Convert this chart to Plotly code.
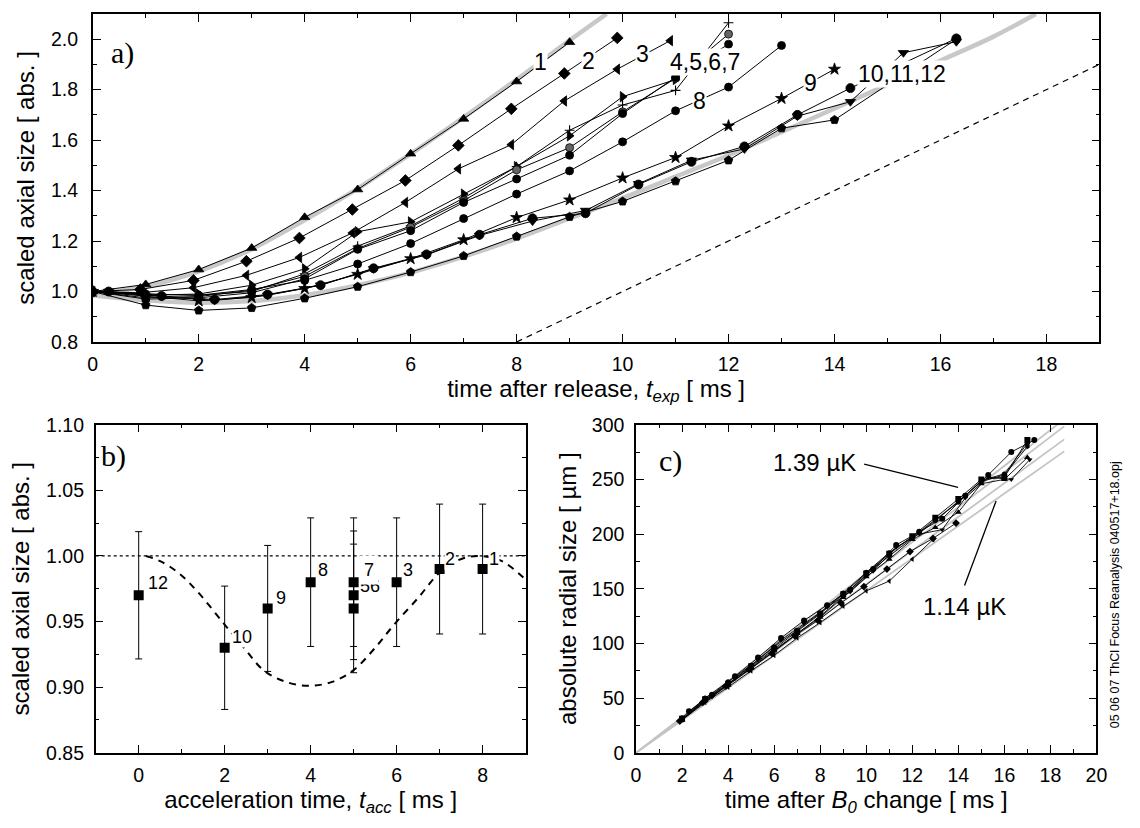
import plotly.graph_objects as go

# ---------------- data: panel a (scaled axial size vs time after release) -------------
A1_T = [0, 1, 2, 3, 4, 5, 6, 7, 8, 9]
A1_V = [1.0, 1.028, 1.087, 1.172, 1.294, 1.404, 1.546, 1.684, 1.832, 1.988]
A2_T = [0, 0.9, 1.9, 2.9, 3.9, 4.9, 5.9, 6.9, 7.9, 8.9, 9.9]
A2_V = [1.0, 1.008, 1.044, 1.12, 1.212, 1.325, 1.44, 1.579, 1.724, 1.864, 2.005]
A3_T = [0, 0.9, 1.9, 2.9, 3.9, 4.9, 5.9, 6.9, 7.9, 8.9, 9.9, 10.9]
A3_V = [1.0, 0.995, 1.015, 1.064, 1.135, 1.232, 1.353, 1.486, 1.582, 1.755, 1.881, 1.994]
A4_T = [0, 1, 2, 3, 4, 5, 6, 7, 8, 9, 10, 11, 12]
A4_V = [1.0, 0.99, 0.985, 1.0, 1.07, 1.18, 1.26, 1.37, 1.495, 1.639, 1.739, 1.797, 2.065]
A5_T = [0, 1, 2, 3, 4, 5, 6, 7, 8, 9, 10, 11]
A5_V = [1.0, 0.985, 0.99, 1.025, 1.09, 1.237, 1.276, 1.386, 1.495, 1.617, 1.772, 1.84]
A6_T = [0, 1, 2, 3, 4, 5, 6, 7, 8, 9, 10, 11, 12]
A6_V = [1.0, 0.975, 0.98, 1.005, 1.06, 1.17, 1.255, 1.36, 1.482, 1.57, 1.712, 1.845, 2.02]
A7_T = [0, 1, 2, 3, 4, 5, 6, 7, 8, 9, 10, 11, 12]
A7_V = [1.0, 0.97, 0.975, 0.995, 1.05, 1.167, 1.241, 1.353, 1.446, 1.54, 1.705, 1.849, 1.98]
A8_T = [0, 1, 2, 3, 4, 5, 6, 7, 8, 9, 10, 11, 12, 13]
A8_V = [1.0, 0.99, 0.985, 1.008, 1.044, 1.109, 1.19, 1.289, 1.386, 1.478, 1.593, 1.716, 1.81, 1.975]
A9_T = [0, 1, 2, 3, 4, 5, 6, 7, 8, 9, 10, 11, 12, 13, 14]
A9_V = [1.0, 0.98, 0.963, 0.976, 1.012, 1.068, 1.13, 1.205, 1.293, 1.363, 1.45, 1.531, 1.656, 1.765, 1.881]
A10_T = [0.3, 1.3, 2.3, 3.3, 4.3, 5.3, 6.3, 7.3, 8.3, 9.3, 10.3, 11.3, 12.3, 13.3, 14.3, 15.3, 16.3]
A10_V = [1.0, 0.98, 0.965, 0.985, 1.025, 1.09, 1.145, 1.222, 1.279, 1.321, 1.427, 1.52, 1.565, 1.695, 1.752, 1.946, 1.99]
A11_T = [0.3, 1.3, 2.3, 3.3, 4.3, 5.3, 6.3, 7.3, 8.3, 9.3, 10.3, 11.3, 12.3, 13.3, 14.3, 16.3]
A11_V = [1.0, 0.982, 0.968, 0.988, 1.025, 1.092, 1.147, 1.225, 1.29, 1.31, 1.424, 1.514, 1.575, 1.70, 1.806, 2.003]
A12_T = [0, 1, 2, 3, 4, 5, 6, 7, 8, 9, 10, 11, 12, 13, 14, 16.3]
A12_V = [1.0, 0.946, 0.925, 0.935, 0.973, 1.019, 1.077, 1.141, 1.218, 1.296, 1.357, 1.437, 1.52, 1.647, 1.68, 2.0]

# grey fit curves and dashed reference line (panel a)
GU_T = [0, 1, 2, 3, 4, 5, 6, 7, 8, 9, 9.7]
GU_V = [0.99, 1.02, 1.08, 1.168, 1.283, 1.408, 1.545, 1.69, 1.84, 1.995, 2.1]
GL_T = [0, 1, 2, 3, 4, 5, 6, 7, 8, 9, 10, 11, 12, 13, 14, 15, 16, 17, 17.8]
GL_V = [0.985, 0.965, 0.955, 0.962, 0.985, 1.025, 1.075, 1.138, 1.21, 1.29, 1.37, 1.455,
        1.54, 1.632, 1.725, 1.82, 1.915, 2.01, 2.1]
AD_T = [8, 19]
AD_V = [0.8, 1.9]

A_LABELS = ["1", "2", "3", "4,5,6,7", "8", "9", "10,11,12"]
A_LAB_T = [8.45, 9.35, 10.37, 11.55, 11.46, 13.55, 15.28]
A_LAB_V = [1.908, 1.912, 1.94, 1.908, 1.754, 1.827, 1.862]

# ---------------- data: panel b ----------------
B_T = [0, 2, 3, 4, 5, 5, 5, 6, 7, 8]
B_V = [0.97, 0.93, 0.96, 0.98, 0.98, 0.97, 0.96, 0.98, 0.99, 0.99]
B_ERR = [0.0485, 0.047, 0.048, 0.049, 0.049, 0.049, 0.049, 0.049, 0.0495, 0.0495]
BC_T = [0.17, 0.5, 0.93, 1.39, 1.99, 2.45, 2.9, 3.43, 3.96, 4.5, 5.0, 5.5, 5.95, 6.5, 6.99,
        7.45, 7.9, 8.45, 9.0]
BC_V = [1.0, 0.996, 0.987, 0.972, 0.948, 0.93, 0.913, 0.904, 0.901, 0.904, 0.913, 0.93,
        0.948, 0.968, 0.987, 0.997, 1.0, 0.996, 0.982]
B_REF_T = [-1, 9]
B_REF_V = [1.0, 1.0]
B_LABELS = ["12", "10", "9", "8", "56", "7", "3", "2", "1"]
B_LAB_T = [0.2, 2.15, 3.18, 4.15, 5.12, 5.12, 6.12, 7.1, 8.12]
B_LAB_V = [0.979, 0.938, 0.968, 0.989, 0.977, 0.989, 0.989, 0.998, 0.998]

# ---------------- data: panel c ----------------
C_SERIES = [
    ("square", 6, [2, 3, 4, 5, 6, 7, 8, 9, 10, 11, 12, 13, 14, 15, 16, 17],
     [31, 49, 63, 79, 95, 111, 127, 145, 164, 182, 198, 215, 232, 250, 252, 286]),
    ("circle", 6, [2.3, 3.3, 4.3, 5.3, 6.3, 7.3, 8.3, 9.3, 10.3, 11.3, 12.3, 13.3, 14.3, 15.3, 16.3, 17.3],
     [38, 53, 70, 87, 105, 121, 135, 149, 168, 190, 202, 214, 235, 254, 275, 286]),
    ("triangle-up", 6, [2, 3, 4, 5, 6, 7, 8, 9, 10, 11, 12, 13, 14, 15, 16, 17],
     [30, 48, 62, 77, 93, 109, 124, 142, 161, 177, 195, 206, 220, 246, 250, 270]),
    ("diamond", 6, [1.9, 2.9, 3.9, 4.9, 5.9, 6.9, 7.9, 8.9, 9.9, 10.9, 11.9, 12.9, 13.9],
     [29, 46, 61, 76, 91, 107, 121, 137, 152, 168, 184, 196, 210]),
    ("triangle-left", 5, [2, 3, 4, 5, 6, 7, 8, 9, 10, 11, 12, 12.9],
     [30, 46, 60, 75, 89, 105, 119, 134, 148, 157, 177, 195]),
    ("circle", 5, [2, 3, 4, 5, 6, 7, 8, 9, 10, 11, 12, 13, 14, 15, 16, 17],
     [32, 50, 65, 80, 97, 112, 128, 146, 165, 183, 197, 213, 229, 249, 255, 283]),
    ("triangle-down", 5, [2.3, 3.3, 4.3, 5.3, 6.3, 7.3, 8.3, 9.3, 10.3, 11.3, 12.3, 13.3, 14.3, 15.3, 16.3, 17.1],
     [37, 51, 68, 85, 103, 118, 133, 147, 166, 188, 200, 204, 233, 252, 250, 268]),
    ("hexagon", 5, [2, 3, 4, 5, 6, 7, 8, 9, 10, 11, 12, 13, 14, 15, 16, 17],
     [30, 47, 62, 78, 94, 109, 125, 143, 163, 180, 196, 212, 230, 248, 254, 280]),
]
CG_T = [0, 18.6]
CG_END = [305, 298.5, 286.6, 275.6]

# ---------------- layout helpers ----------------
W, H = 1140, 828
SANS = "Liberation Sans, Arial, sans-serif"
SERIF = "Liberation Serif, Times New Roman, serif"


def dx(l, r):
    return [l / W, r / W]


def dy(t, b):
    return [1 - b / H, 1 - t / H]


fig = go.Figure()

# panel a
fig.add_trace(go.Scatter(x=GU_T, y=GU_V, mode="lines", xaxis="x", yaxis="y",
                         line=dict(color="#c8c8c8", width=4.5, shape="spline"), hoverinfo="skip"))
fig.add_trace(go.Scatter(x=GL_T, y=GL_V, mode="lines", xaxis="x", yaxis="y",
                         line=dict(color="#c8c8c8", width=4.5, shape="spline"), hoverinfo="skip"))
fig.add_trace(go.Scatter(x=AD_T, y=AD_V, mode="lines", xaxis="x", yaxis="y",
                         line=dict(color="black", width=1.2, dash="6px,5px")))

a_series = [
    (A1_T, A1_V, "triangle-up", 9, "black"),
    (A2_T, A2_V, "diamond", 9, "black"),
    (A3_T, A3_V, "triangle-left", 9, "black"),
    (A4_T, A4_V, "cross-thin", 7, "black"),
    (A5_T, A5_V, "triangle-right", 9, "black"),
    (A6_T, A6_V, "circle", 8, "#666666"),
    (A7_T, A7_V, "circle", 8, "black"),
    (A8_T, A8_V, "circle", 8, "black"),
    (A9_T, A9_V, "star", 9, "black"),
    (A10_T, A10_V, "triangle-down", 9, "black"),
    (A11_T, A11_V, "circle", 9, "black"),
    (A12_T, A12_V, "pentagon", 9, "black"),
]
for t, v, sym, sz, col in a_series:
    fig.add_trace(go.Scatter(
        x=t, y=v, mode="lines+markers", xaxis="x", yaxis="y",
        line=dict(color="black", width=1),
        marker=dict(symbol=sym, size=sz, color=col,
                    line=dict(color="black", width=1.1 if sym == "cross-thin" else 0.8))))

# panel b
fig.add_trace(go.Scatter(x=B_REF_T, y=B_REF_V, mode="lines", xaxis="x2", yaxis="y2",
                         line=dict(color="black", width=1.3, dash="dot")))
fig.add_trace(go.Scatter(x=BC_T, y=BC_V, mode="lines", xaxis="x2", yaxis="y2",
                         line=dict(color="black", width=2, dash="7px,6px", shape="spline")))
fig.add_trace(go.Scatter(
    x=B_T, y=B_V, mode="markers", xaxis="x2", yaxis="y2",
    marker=dict(symbol="square", size=10, color="black"),
    error_y=dict(type="data", array=B_ERR, color="black", thickness=1, width=3.5)))

# panel c
for k in CG_END:
    fig.add_trace(go.Scatter(x=CG_T, y=[0, k], mode="lines", xaxis="x3", yaxis="y3",
                             line=dict(color="#c4c4c4", width=1.8)))
for sym, sz, t, r in C_SERIES:
    fig.add_trace(go.Scatter(
        x=t, y=r, mode="lines+markers", xaxis="x3", yaxis="y3",
        line=dict(color="black", width=0.9),
        marker=dict(symbol=sym, size=sz, color="black")))


def axis(dom, anchor, rng, dtick, minor, title, fmt=None, tick0=None, standoff=10, lstand=4):
    d = dict(domain=dom, anchor=anchor, range=rng, dtick=dtick,
             showline=True, linecolor="black", linewidth=1.5, mirror="ticks",
             ticks="inside", ticklen=8, tickwidth=1.2, tickcolor="black",
             showgrid=False, zeroline=False, ticklabelstandoff=lstand,
             tickfont=dict(family=SANS, size=19.5, color="black"),
             minor=dict(ticks="inside", ticklen=4, tickwidth=1.2, tickcolor="black",
                        dtick=minor, showgrid=False),
             title=dict(text=title, font=dict(family=SANS, size=24, color="black"),
                        standoff=standoff))
    if fmt:
        d["tickformat"] = fmt
    if tick0 is not None:
        d["tick0"] = tick0
    return d


annotations = []
for txt, t, v in zip(A_LABELS, A_LAB_T, A_LAB_V):
    annotations.append(dict(x=t, y=v, xref="x", yref="y", text=txt, showarrow=False,
                            xanchor="center", yanchor="middle",
                            font=dict(family=SANS, size=23, color="black"),
                            bgcolor="white", borderpad=0))
for txt, t, v in zip(B_LABELS, B_LAB_T, B_LAB_V):
    annotations.append(dict(x=t, y=v, xref="x2", yref="y2", text=txt, showarrow=False,
                            xanchor="left", yanchor="middle",
                            font=dict(family=SANS, size=18, color="black"),
                            bgcolor="white", borderpad=4 if txt == "7" else 0))
annotations += [
    dict(x=0.03, y=0.88, xref="x domain", yref="y domain", text="a)", showarrow=False,
         xanchor="center", yanchor="middle",
         font=dict(family=SERIF, size=30, color="black")),
    dict(x=0.042, y=0.905, xref="x2 domain", yref="y2 domain", text="b)", showarrow=False,
         xanchor="center", yanchor="middle",
         font=dict(family=SERIF, size=30, color="black")),
    dict(x=0.075, y=0.89, xref="x3 domain", yref="y3 domain", text="c)", showarrow=False,
         xanchor="center", yanchor="middle",
         font=dict(family=SERIF, size=30, color="black")),
    dict(x=7.75, y=265, xref="x3", yref="y3", text="1.39 µK", showarrow=False,
         xanchor="center", yanchor="middle",
         font=dict(family=SANS, size=24, color="black")),
    dict(x=14.26, y=134, xref="x3", yref="y3", text="1.14 µK", showarrow=False,
         xanchor="center", yanchor="middle",
         font=dict(family=SANS, size=24, color="black")),
    dict(x=1126 / W, y=1 - 600 / H, xref="paper", yref="paper", textangle=-90,
         xanchor="center", yanchor="middle",
         text="05 06 07 ThCl Focus Reanalysis 040517+18.opj", showarrow=False,
         font=dict(family=SANS, size=12.5, color="black")),
]

shapes = [
    dict(type="line", xref="x3", yref="y3", x0=9.91, y0=264, x1=13.99, y1=242.7,
         line=dict(color="black", width=1.3)),
    dict(type="line", xref="x3", yref="y3", x0=14.27, y0=153, x1=15.64, y1=230.2,
         line=dict(color="black", width=1.3)),
]

fig.update_layout(
    width=W, height=H, autosize=False, showlegend=False,
    margin=dict(l=0, r=0, t=0, b=0),
    paper_bgcolor="white", plot_bgcolor="white",
    xaxis=axis(dx(89, 1110), "y", [0, 19], 2, 1,
               "time after release, <i>t</i><sub><i>exp</i></sub> [ ms ]", standoff=4),
    yaxis=axis(dy(3, 340), "x", [0.8, 2.1], 0.2, 0.1, "scaled axial size [ abs. ]",
               fmt=".1f", tick0=0.8, standoff=10, lstand=9),
    xaxis2=axis(dx(92, 528), "y2", [-1, 9], 2, 1,
                "acceleration time, <i>t</i><sub><i>acc</i></sub> [ ms ]", tick0=0, standoff=4),
    yaxis2=axis(dy(425, 762), "x2", [0.85, 1.10], 0.05, 0.025, "scaled axial size [ abs. ]",
                fmt=".2f", tick0=0.85, standoff=10, lstand=6),
    xaxis3=axis(dx(640, 1107), "y3", [0, 20], 2, 1,
                "time after <i>B</i><sub><i>0</i></sub> change [ ms ]", standoff=4),
    yaxis3=axis(dy(425, 762), "x3", [0, 300], 50, 25, "absolute radial size [ µm ]",
                standoff=8, lstand=6),
    annotations=annotations,
    shapes=shapes,
)

fig.write_html("out.html", config={"displayModeBar": False},
               post_script="document.body.style.margin='0px';document.body.style.overflow='hidden';")
